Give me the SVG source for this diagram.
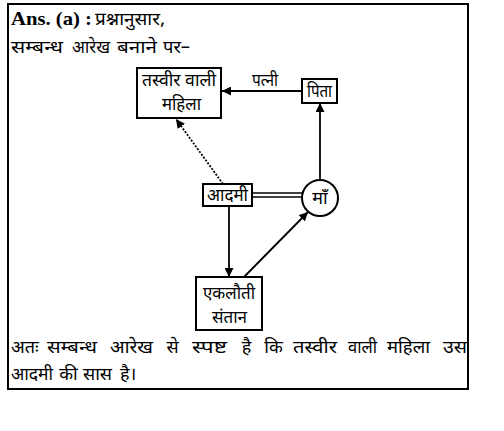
<svg xmlns="http://www.w3.org/2000/svg" width="504" height="431" viewBox="0 0 504 431">
<style>
.t{font-family:"Noto Sans Devanagari","Noto Sans","Noto Sans CJK SC",sans-serif;font-size:18px;fill:#000}
.c{text-anchor:middle}
.b{fill:#fff;stroke:#000;stroke-width:2}
.l{stroke:#000;stroke-width:1.8;fill:none}
</style>
<defs>
<marker id="ah" viewBox="0 0 10 10" refX="10" refY="5" markerWidth="9" markerHeight="9" markerUnits="userSpaceOnUse" orient="auto"><path d="M0,0 L10,5 L0,10 z" fill="#000"/></marker>
</defs>
<rect x="0" y="0" width="504" height="431" fill="#fff"/>
<rect x="8" y="4" width="460" height="385" fill="none" stroke="#000" stroke-width="2"/>
<g id="heading">
<text x="11" y="25" textLength="81" lengthAdjust="spacingAndGlyphs" style="font-family:'Liberation Serif',serif;font-weight:bold;font-size:19px">Ans. (a) :</text>
<text x="95" y="25" textLength="70" lengthAdjust="spacingAndGlyphs" class="t">प्रश्नानुसार,</text>
<text x="11" y="53" textLength="52" lengthAdjust="spacingAndGlyphs" class="t">सम्बन्ध</text>
<text x="72" y="53" textLength="38" lengthAdjust="spacingAndGlyphs" class="t">आरेख</text>
<text x="117" y="53" textLength="40" lengthAdjust="spacingAndGlyphs" class="t">बनाने</text>
<text x="163" y="53" textLength="27" lengthAdjust="spacingAndGlyphs" class="t">पर–</text>
</g>
<g id="connectors">
<line class="l" x1="302" y1="91" x2="222" y2="91" marker-end="url(#ah)"/>
<text x="252" y="86" textLength="26" lengthAdjust="spacingAndGlyphs" class="t">पत्नी</text>
<line class="l" x1="320" y1="180" x2="320" y2="103" marker-end="url(#ah)"/>
<line class="l" x1="223" y1="184" x2="176" y2="119" stroke-dasharray="2,1.5" marker-end="url(#ah)"/>
<line x1="252" y1="193" x2="302" y2="193" stroke="#000" stroke-width="1.5"/>
<line x1="252" y1="197" x2="302" y2="197" stroke="#000" stroke-width="1.5"/>
<line class="l" x1="229" y1="206" x2="229" y2="277" marker-end="url(#ah)"/>
<line class="l" x1="244" y1="277" x2="308" y2="212" marker-end="url(#ah)"/>
</g>
<g id="n-mahila">
<rect class="b" x="137" y="68" width="84" height="50"/>
<text x="142" y="86" textLength="74" lengthAdjust="spacingAndGlyphs" class="t">तस्वीर वाली</text>
<text x="162" y="110" textLength="39" lengthAdjust="spacingAndGlyphs" class="t">महिला</text>
</g>
<g id="n-pita">
<rect class="b" x="302" y="79" width="35" height="24"/>
<text x="307" y="97" textLength="25" lengthAdjust="spacingAndGlyphs" class="t">पिता</text>
</g>
<g id="n-aadmi">
<rect class="b" x="203" y="184" width="49" height="22"/>
<text x="207" y="201" textLength="41" lengthAdjust="spacingAndGlyphs" class="t">आदमी</text>
</g>
<g id="n-maa">
<circle class="b" cx="320" cy="198" r="18"/>
<text x="320" y="204" class="t c">माँ</text>
</g>
<g id="n-santan">
<rect class="b" x="196" y="277" width="66" height="53"/>
<text x="203" y="299" textLength="52" lengthAdjust="spacingAndGlyphs" class="t">एकलौती</text>
<text x="212" y="323" textLength="35" lengthAdjust="spacingAndGlyphs" class="t">संतान</text>
</g>
<g id="conclusion">
<text x="11" y="353" class="t">अतः</text>
<text x="47" y="353" textLength="50" lengthAdjust="spacingAndGlyphs" class="t">सम्बन्ध</text>
<text x="110" y="353" textLength="43" lengthAdjust="spacingAndGlyphs" class="t">आरेख</text>
<text x="172.5" y="353" class="t c">से</text>
<text x="192" y="353" textLength="35" lengthAdjust="spacingAndGlyphs" class="t">स्पष्ट</text>
<text x="246.5" y="353" class="t c">है</text>
<text x="273.5" y="353" class="t c">कि</text>
<text x="293" y="353" textLength="44" lengthAdjust="spacingAndGlyphs" class="t">तस्वीर</text>
<text x="348" y="353" textLength="29" lengthAdjust="spacingAndGlyphs" class="t">वाली</text>
<text x="387" y="353" textLength="43" lengthAdjust="spacingAndGlyphs" class="t">महिला</text>
<text x="443" y="353" textLength="24" lengthAdjust="spacingAndGlyphs" class="t">उस</text>
<text x="11" y="380" textLength="42" lengthAdjust="spacingAndGlyphs" class="t">आदमी</text>
<text x="68.5" y="380" class="t c">की</text>
<text x="83" y="380" textLength="29" lengthAdjust="spacingAndGlyphs" class="t">सास</text>
<text x="120" y="380" class="t">है।</text>
</g>
</svg>
